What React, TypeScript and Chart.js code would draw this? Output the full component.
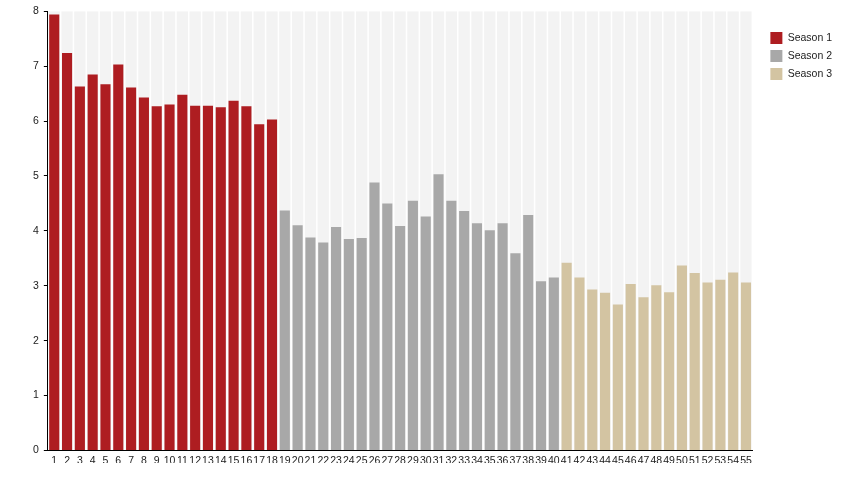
import React, { useEffect, useRef } from "react";
import { Chart, registerables, Plugin } from "chart.js";

Chart.register(...registerables);

const episodes = [
  "1", "2", "3", "4", "5", "6", "7", "8", "9", "10",
  "11", "12", "13", "14", "15", "16", "17", "18", "19", "20",
  "21", "22", "23", "24", "25", "26", "27", "28", "29", "30",
  "31", "32", "33", "34", "35", "36", "37", "38", "39", "40",
  "41", "42", "43", "44", "45", "46", "47", "48", "49", "50",
  "51", "52", "53", "54", "55",
];

const season1 = [
  7.94, 7.24, 6.63, 6.85, 6.67, 7.03, 6.61, 6.43, 6.27, 6.3,
  6.48, 6.28, 6.28, 6.25, 6.37, 6.27, 5.94, 6.03,
];
const season2 = [
  4.37, 4.1, 3.88, 3.79, 4.07, 3.85, 3.87, 4.88, 4.5, 4.09,
  4.55, 4.26, 5.03, 4.55, 4.36, 4.14, 4.01, 4.14, 3.59, 4.29,
  3.08, 3.15,
];
const season3 = [
  3.42, 3.15, 2.93, 2.87, 2.66, 3.03, 2.79, 3.01, 2.88, 3.37,
  3.23, 3.06, 3.11, 3.24, 3.06,
];

const yTicks = [0, 1, 2, 3, 4, 5, 6, 7, 8];
const yMax = 8;

// place a season's values at its episodes, null elsewhere
const place = (values: number[], offset: number) =>
  episodes.map((_, i) =>
    i >= offset && i < offset + values.length ? values[i - offset] : null
  );

// nudge the legend a bit away from the plot and down from the top
const legendShift: Plugin<"bar"> = {
  id: "legendShift",
  afterLayout(chart) {
    const legend = chart.legend;
    if (!legend) return;
    legend.left += 12;
    legend.right += 12;
    legend.top += 21;
  },
};

const App: React.FC = () => {
  const chartRef = useRef<HTMLCanvasElement | null>(null);

  useEffect(() => {
    document.body.style.margin = "0";
    if (!chartRef.current) return;

    const font = { family: "'Liberation Sans', Arial, sans-serif", size: 10.5 };

    const chart = new Chart(chartRef.current, {
      type: "bar",
      data: {
        labels: episodes,
        datasets: [
          {
            label: "Season 1",
            data: place(season1, 0),
            backgroundColor: "#ae1d21",
            barPercentage: 0.79,
            categoryPercentage: 1,
            grouped: false,
            order: 1,
          },
          {
            label: "Season 2",
            data: place(season2, season1.length),
            backgroundColor: "#a8a8a8",
            barPercentage: 0.79,
            categoryPercentage: 1,
            grouped: false,
            order: 1,
          },
          {
            label: "Season 3",
            data: place(season3, season1.length + season2.length),
            backgroundColor: "#d3c4a2",
            barPercentage: 0.79,
            categoryPercentage: 1,
            grouped: false,
            order: 1,
          },
          {
            label: "bg",
            data: episodes.map(() => yMax),
            backgroundColor: "#f3f3f3",
            barPercentage: 0.88,
            categoryPercentage: 1,
            grouped: false,
            order: 2,
          },
        ],
      },
      options: {
        responsive: false,
        animation: false,
        layout: { padding: { top: 5, left: 28, bottom: 37, right: 22 } },
        plugins: {
          legend: {
            position: "right",
            align: "start",
            labels: {
              font,
              color: "#222",
              boxWidth: 12,
              boxHeight: 12,
              padding: 6,
              filter: (item) => item.text !== "bg",
            },
          },
          tooltip: { enabled: false },
        },
        scales: {
          x: {
            grid: { display: false },
            border: { display: true, color: "#000" },
            ticks: {
              font,
              color: "#222",
              autoSkip: false,
              maxRotation: 0,
              padding: -4,
            },
          },
          y: {
            min: 0,
            max: yMax,
            afterBuildTicks: (axis) => {
              axis.ticks = yTicks.map((v) => ({ value: v }));
            },
            grid: {
              drawOnChartArea: false,
              drawTicks: true,
              tickLength: 4,
              color: "#000",
            },
            border: { display: true, color: "#000" },
            ticks: { font, color: "#222", padding: 5 },
          },
        },
      },
      plugins: [legendShift],
    });

    return () => {
      chart.destroy();
    };
  }, []);

  return (
    <canvas
      ref={chartRef}
      width={852}
      height={500}
      style={{ display: "block", width: "852px", height: "500px" }}
    />
  );
};

export default App;
